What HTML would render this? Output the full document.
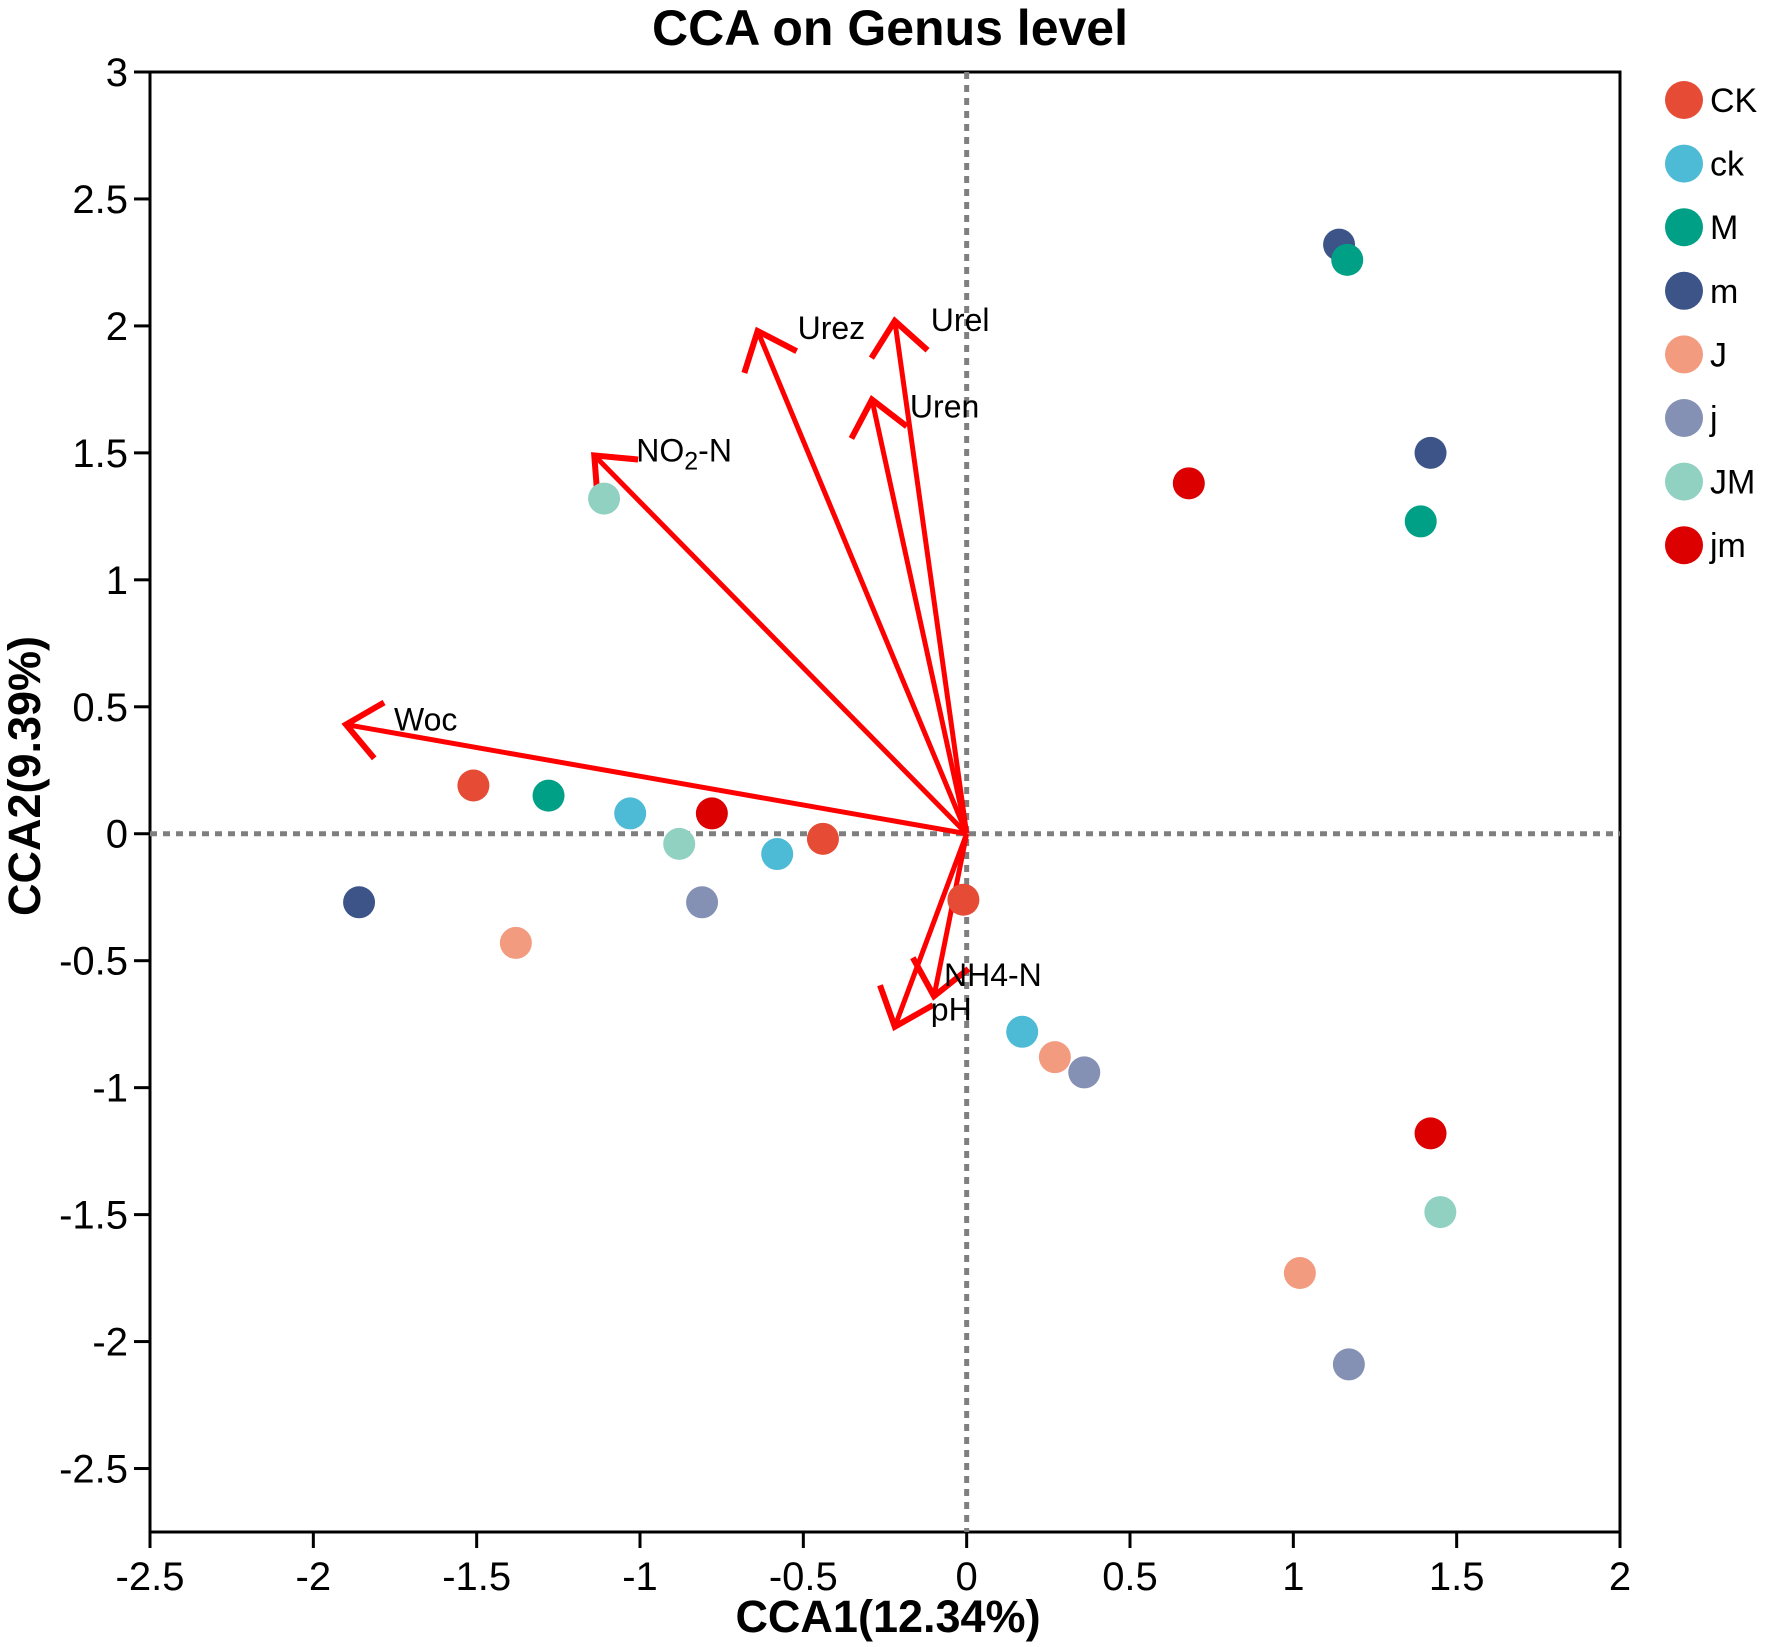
<!DOCTYPE html>
<html><head><meta charset="utf-8"><style>
html,body{margin:0;padding:0;background:#fff;}
svg{display:block;font-family:"Liberation Sans",Arial,sans-serif;}
</style></head><body>
<svg id="chart" width="1772" height="1647" viewBox="0 0 1772 1647" xmlns="http://www.w3.org/2000/svg">
<text x="890" y="45" text-anchor="middle" font-size="50" font-weight="bold">CCA on Genus level</text>
<text x="888" y="1632" text-anchor="middle" font-size="45" font-weight="bold">CCA1(12.34%)</text>
<text transform="translate(40,776) rotate(-90)" text-anchor="middle" font-size="45" font-weight="bold">CCA2(9.39%)</text>
<g id="axes"></g>
<g id="refs"></g>
<g id="arrows"></g>
<g id="points"></g>
<g id="legend"></g>
</svg>
<script>
const groups = ["CK","ck","M","m","J","j","JM","jm"];
const groupColors = ["#E64B35","#4DBBD5","#00A087","#3C5488","#F39B7F","#8491B4","#91D1C2","#DC0000"];
const pointGroup = ["m","M","m","M","jm","JM","CK","M","ck","jm","JM","ck","CK","m","J","j","CK","ck","J","j","jm","JM","J","j"];
const pointX = [1.14,1.165,1.42,1.39,0.68,-1.11,-1.51,-1.28,-1.03,-0.78,-0.88,-0.58,-0.44,-1.86,-1.38,-0.81,-0.01,0.17,0.27,0.36,1.42,1.45,1.02,1.17];
const pointY = [2.32,2.26,1.50,1.23,1.38,1.32,0.19,0.15,0.08,0.08,-0.04,-0.08,-0.02,-0.27,-0.43,-0.27,-0.26,-0.78,-0.88,-0.94,-1.18,-1.49,-1.73,-2.09];
const envNames = ["Woc","NO2-N","Urez","Urel","Uren","NH4-N","pH"];
const envX = [-1.90,-1.14,-0.64,-0.22,-0.29,-0.10,-0.22];
const envY = [0.43,1.49,1.98,2.02,1.71,-0.64,-0.76];
const xTicks = [-2.5,-2,-1.5,-1,-0.5,0,0.5,1,1.5,2];
const yTicks = [3,2.5,2,1.5,1,0.5,0,-0.5,-1,-1.5,-2,-2.5];

const NS="http://www.w3.org/2000/svg";
const L=150,R=1620,T=72,B=1532;
const xMin=-2.5,xMax=2,yMin=-2.75,yMax=3;
function sx(v){return L+(v-xMin)/(xMax-xMin)*(R-L);}
function sy(v){return B-(v-yMin)/(yMax-yMin)*(B-T);}
function mk(tag,attrs,parent){const e=document.createElementNS(NS,tag);for(const k in attrs)e.setAttribute(k,attrs[k]);parent.appendChild(e);return e;}

const axes=document.getElementById('axes');
const frame=mk('rect',{x:L,y:T,width:R-L,height:B-T,fill:'none',stroke:'#000','stroke-width':3},axes);


xTicks.forEach(t=>{
  const ln=mk('line',{x1:sx(t),x2:sx(t),y1:B,y2:B+16,stroke:'#000','stroke-width':3},axes);
  
  
  const tx=mk('text',{x:sx(t),y:B+58,'text-anchor':'middle','font-size':40},axes);
  tx.textContent=String(t);
  
  
});
yTicks.forEach(t=>{
  const ln=mk('line',{x1:L-16,x2:L,y1:sy(t),y2:sy(t),stroke:'#000','stroke-width':3},axes);
  
  
  const tx=mk('text',{x:L-22,y:sy(t)+14,'text-anchor':'end','font-size':40},axes);
  tx.textContent=String(t);
  
  
});
const refs=document.getElementById('refs');
const h0=mk('line',{x1:L,x2:R,y1:sy(0),y2:sy(0),stroke:'#7f7f7f','stroke-width':5,'stroke-dasharray':'7 6'},refs);


const v0=mk('line',{x1:sx(0),x2:sx(0),y1:T,y2:B,stroke:'#7f7f7f','stroke-width':5,'stroke-dasharray':'7 6'},refs);



const arrows=document.getElementById('arrows');
const labelOff=[[48,-4],[42,-4],[40,-2],[36,0],[38,8],[10,-20],[36,-16]];
envNames.forEach((n,i)=>{
  const x0=sx(0),y0=sy(0),x1=sx(envX[i]),y1=sy(envY[i]);
  const g=mk('g',{},arrows);
  
  
  mk('line',{x1:x0,y1:y0,x2:x1,y2:y1,stroke:'#ff0000','stroke-width':5},g);
  const a=Math.atan2(y0-y1,x0-x1),h=44,s=0.7;
  const p1=[x1+h*Math.cos(a+s),y1+h*Math.sin(a+s)],p2=[x1+h*Math.cos(a-s),y1+h*Math.sin(a-s)];
  mk('polyline',{points:`${p1[0]},${p1[1]} ${x1},${y1} ${p2[0]},${p2[1]}`,fill:'none',stroke:'#ff0000','stroke-width':6},g);
  const t=mk('text',{x:x1+labelOff[i][0],y:y1+labelOff[i][1]+10,'font-size':32},g);
  if(n==='NO2-N'){t.innerHTML='NO<tspan font-size="25" dy="8">2</tspan><tspan dy="-8">-N</tspan>';}
  else t.textContent=n;
  
  
});

const pts=document.getElementById('points');
pointX.forEach((v,i)=>{
  const c=mk('circle',{cx:sx(v),cy:sy(pointY[i]),r:16,fill:groupColors[groups.indexOf(pointGroup[i])]},pts);
  
  
});

const leg=document.getElementById('legend');
groups.forEach((g,i)=>{
  const y=100+i*63.6;
  const e=mk('g',{},leg);
  
  
  mk('circle',{cx:1684,cy:y,r:19,fill:groupColors[i]},e);
  const t=mk('text',{x:1710,y:y+12,'font-size':34},e);
  t.textContent=g;
});
</script>
</body></html>
